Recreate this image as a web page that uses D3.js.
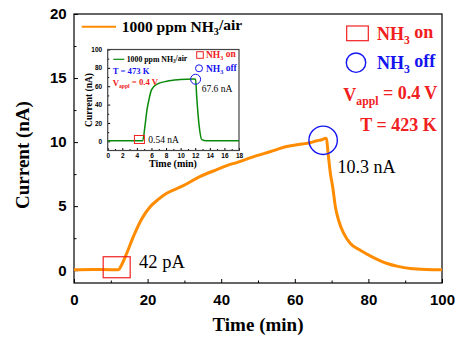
<!DOCTYPE html>
<html>
<head>
<meta charset="utf-8">
<script src="https://cdn.jsdelivr.net/npm/d3@7"></script>
<style>
  body { margin: 0; background: #fff; }
  svg { display: block; font-family: "Liberation Serif", "Times New Roman", serif; }
</style>
</head>
<body>
<div class="chart"></div>
<script>
// main curve, 423 K
const mainTime = [0, 5, 10, 12, 13, 14.3, 16.1, 18.4, 20.7, 23, 25.2, 29.7, 34.2, 38.8, 41.9, 44.2, 48.7, 53.3, 57.8, 62, 64.1, 66, 67.5, 68.3, 68.6, 69.1, 69.7, 70.3, 71, 71.9, 73.3, 75.1, 77.8, 81, 85.1, 88, 91.4, 95.8, 100];
const mainCurrent = [0.03, 0.05, 0.04, 0.04, 0.45, 1.3, 2.6, 4.0, 4.95, 5.55, 6.0, 6.6, 7.3, 7.85, 8.2, 8.4, 8.85, 9.25, 9.65, 9.85, 9.95, 10.1, 10.2, 10.3, 10.25, 9.0, 7.5, 6.5, 5.0, 3.9, 2.87, 2.08, 1.56, 1.04, 0.52, 0.3, 0.13, 0.05, 0.03];

// inset curve, 473 K
const insetTime = [0, 2, 4, 4.8, 5.1, 5.4, 5.7, 6.0, 6.7, 8.1, 9.9, 11.8, 12.05, 12.2, 12.55, 12.9, 13.5, 16, 18];
const insetCurrent = [0.6, 0.55, 0.54, 0.7, 16, 35, 47, 56, 62, 65.5, 67.2, 67.8, 67.6, 49, 16, 1.8, 0.6, 0.55, 0.6];

const xTicks = [0, 20, 40, 60, 80, 100];
const yTicks = [0, 5, 10, 15, 20];
const insetXTicks = [0, 2, 4, 6, 8, 10, 12, 14, 16, 18];
const insetYTicks = [0, 20, 40, 60, 80, 100];

// marker positions (time, current)
const mainOn = [11.6, 0.23];
const mainOff = [67.7, 10.14];
const insetOn = [4.35, 2];
const insetOff = [12.05, 67.6];

const W = 460, H = 342;
const ORANGE = '#ff8c00', RED = '#f02020', BLUE = '#1414f0', GREEN = '#0a8a0a';

const svg = d3.select('.chart').append('svg').attr('width', W).attr('height', H);

const x = d3.scaleLinear().domain([0, 100]).range([74, 442]);
const y = d3.scaleLinear().domain([-1, 20]).range([283, 14]);

// ---- main axes
let xAxisg = svg.append('g')
  .attr('transform', 'translate(0,283)')
  .call(d3.axisBottom(x).tickValues(xTicks).tickSize(-4).tickPadding(11.4));
xAxisg.selectAll('text').style('font-size', '15px').style('font-weight', 'bold').attr('fill', '#000');
xAxisg.select('.domain').remove();
svg.append('g')
  .attr('transform', 'translate(0,283)')
  .call(d3.axisBottom(x).tickValues([10, 30, 50, 70, 90]).tickSize(-2.5).tickFormat(''))
  .select('.domain').remove();

let yAxisg = svg.append('g')
  .attr('transform', 'translate(74,0)')
  .call(d3.axisLeft(y).tickValues(yTicks).tickSize(-4).tickPadding(7.3));
yAxisg.selectAll('text').style('font-size', '15px').style('font-weight', 'bold').attr('fill', '#000');
yAxisg.select('.domain').remove();
svg.append('g')
  .attr('transform', 'translate(74,0)')
  .call(d3.axisLeft(y).tickValues([2.5, 7.5, 12.5, 17.5]).tickSize(-2.5).tickFormat(''))
  .select('.domain').remove();

svg.append('rect')
  .attr('x', 74).attr('y', 14).attr('width', 368).attr('height', 269)
  .attr('fill', 'none').attr('stroke', '#000').attr('stroke-width', 1.2);

svg.append('text').attr('x', 258).attr('y', 331)
  .attr('text-anchor', 'middle').style('font-size', '19px').style('font-weight', 'bold')
  .text('Time (min)');
svg.append('text').attr('transform', 'translate(29,155) rotate(-90)')
  .attr('text-anchor', 'middle').style('font-size', '19px').style('font-weight', 'bold')
  .text('Current (nA)');

// ---- main line
let lineFunction = d3.line().x(d => x(d[0])).y(d => y(d[1])).curve(d3.curveMonotoneX);
svg.append('path')
  .attr('d', lineFunction(d3.zip(mainTime, mainCurrent)))
  .attr('fill', 'none').attr('stroke', ORANGE).attr('stroke-width', 3).attr('stroke-linejoin', 'round');

// markers
svg.append('rect')
  .attr('x', x(mainOn[0]) - 13.5).attr('y', y(mainOn[1]) - 10.5).attr('width', 27).attr('height', 21)
  .attr('fill', 'none').attr('stroke', RED).attr('stroke-width', 1.2);
svg.append('circle')
  .attr('cx', x(mainOff[0])).attr('cy', y(mainOff[1])).attr('r', 14.2)
  .attr('fill', 'none').attr('stroke', BLUE).attr('stroke-width', 1.4);

svg.append('text').attr('x', 139).attr('y', 268).style('font-size', '18.5px').text('42 pA');
svg.append('text').attr('x', 337.5).attr('y', 173).style('font-size', '18px').text('10.3 nA');

// helper for NH3 style subscripts
function chem(sel, before, sub, after) {
  sel.append('tspan').text(before);
  sel.append('tspan').attr('dy', '0.3em').style('font-size', '0.65em').text(sub);
  sel.append('tspan').attr('dy', '-0.3em').text(after);
  return sel;
}

// legend top-left
svg.append('line').attr('x1', 81.7).attr('x2', 116).attr('y1', 26.7).attr('y2', 26.7)
  .attr('stroke', ORANGE).attr('stroke-width', 2);
chem(svg.append('text').attr('x', 121.7).attr('y', 31.7)
  .style('font-size', '15.5px').style('font-weight', 'bold'), '1000 ppm NH', '3', '/air');

// right legend
svg.append('rect').attr('x', 346.7).attr('y', 26).attr('width', 21.6).attr('height', 14.7)
  .attr('fill', 'none').attr('stroke', RED).attr('stroke-width', 1.2);
chem(svg.append('text').attr('x', 377).attr('y', 40).attr('fill', RED)
  .style('font-size', '18px').style('font-weight', 'bold'), 'NH', '3', ' on');
svg.append('circle').attr('cx', 356).attr('cy', 62.7).attr('r', 9.7)
  .attr('fill', 'none').attr('stroke', BLUE).attr('stroke-width', 1.4);
chem(svg.append('text').attr('x', 377).attr('y', 69).attr('fill', BLUE)
  .style('font-size', '18px').style('font-weight', 'bold'), 'NH', '3', ' off');
chem(svg.append('text').attr('x', 343.3).attr('y', 101).attr('fill', RED)
  .style('font-size', '18px').style('font-weight', 'bold'), 'V', 'appl', ' = 0.4 V');
svg.append('text').attr('x', 436.7).attr('y', 130.7).attr('fill', RED).attr('text-anchor', 'end')
  .style('font-size', '18px').style('font-weight', 'bold').text('T = 423 K');

// ---- inset
const ix = d3.scaleLinear().domain([0, 18]).range([107.7, 239]);
const iy = d3.scaleLinear().domain([-10, 100]).range([150.5, 49.5]);
let inset = svg.append('g');
inset.append('rect').attr('x', 107.7).attr('y', 49.5).attr('width', 131.3).attr('height', 101)
  .attr('fill', '#fff');

let ixAxisg = inset.append('g').attr('transform', 'translate(0,150.5)')
  .call(d3.axisBottom(ix).tickValues(insetXTicks).tickSize(-2.5).tickPadding(3.2));
ixAxisg.selectAll('text').style('font-size', '6.5px').style('font-weight', 'bold').attr('fill', '#000');
ixAxisg.select('.domain').remove();
inset.append('g').attr('transform', 'translate(0,150.5)')
  .call(d3.axisBottom(ix).tickValues(d3.range(1, 18, 2)).tickSize(-1.5).tickFormat(''))
  .select('.domain').remove();
let iyAxisg = inset.append('g').attr('transform', 'translate(107.7,0)')
  .call(d3.axisLeft(iy).tickValues(insetYTicks).tickSize(-2.5).tickPadding(5.5));
iyAxisg.selectAll('text').style('font-size', '6.5px').style('font-weight', 'bold').attr('fill', '#000');
iyAxisg.select('.domain').remove();
inset.append('g').attr('transform', 'translate(107.7,0)')
  .call(d3.axisLeft(iy).tickValues([10, 30, 50, 70, 90]).tickSize(-1.5).tickFormat(''))
  .select('.domain').remove();

inset.append('rect').attr('x', 107.7).attr('y', 49.5).attr('width', 131.3).attr('height', 101)
  .attr('fill', 'none').attr('stroke', '#444').attr('stroke-width', 1.2);

inset.append('text').attr('x', 173).attr('y', 167).attr('text-anchor', 'middle')
  .style('font-size', '10px').style('font-weight', 'bold').text('Time (min)');
inset.append('text').attr('transform', 'translate(92,100) rotate(-90)').attr('text-anchor', 'middle')
  .style('font-size', '9.5px').style('font-weight', 'bold').text('Current (nA)');

let insetLine = d3.line().x(d => ix(d[0])).y(d => iy(d[1])).curve(d3.curveMonotoneX);
inset.append('path')
  .attr('d', insetLine(d3.zip(insetTime, insetCurrent)))
  .attr('fill', 'none').attr('stroke', GREEN).attr('stroke-width', 1.5);

inset.append('rect').attr('x', ix(insetOn[0]) - 5).attr('y', iy(insetOn[1]) - 4).attr('width', 10).attr('height', 8)
  .attr('fill', 'none').attr('stroke', RED).attr('stroke-width', 1);
inset.append('circle').attr('cx', ix(insetOff[0])).attr('cy', iy(insetOff[1])).attr('r', 5)
  .attr('fill', 'none').attr('stroke', BLUE).attr('stroke-width', 1);
inset.append('text').attr('x', 148.3).attr('y', 143.3).style('font-size', '9.5px').text('0.54 nA');
inset.append('text').attr('x', 201.7).attr('y', 91.7).style('font-size', '9.5px').text('67.6 nA');

// inset legend
inset.append('line').attr('x1', 113.3).attr('x2', 124.3).attr('y1', 59.3).attr('y2', 59.3)
  .attr('stroke', GREEN).attr('stroke-width', 1.2);
chem(inset.append('text').attr('x', 126.7).attr('y', 61.5)
  .style('font-size', '7.8px').style('font-weight', 'bold'), '1000 ppm NH', '3', '/air');
chem(inset.append('text').attr('x', 112.7).attr('y', 74.3).attr('fill', BLUE)
  .style('font-size', '8.7px').style('font-weight', 'bold'), 'T = 473 K', '', '');
chem(inset.append('text').attr('x', 112.7).attr('y', 86).attr('fill', RED)
  .style('font-size', '8.7px').style('font-weight', 'bold'), 'V', 'appl', ' = 0.4 V');
inset.append('rect').attr('x', 196.7).attr('y', 51.7).attr('width', 6.6).attr('height', 6.6)
  .attr('fill', 'none').attr('stroke', RED).attr('stroke-width', 1);
chem(inset.append('text').attr('x', 206).attr('y', 58.3).attr('fill', RED)
  .style('font-size', '9.5px').style('font-weight', 'bold'), 'NH', '3', ' on');
inset.append('circle').attr('cx', 199).attr('cy', 68.3).attr('r', 3.5)
  .attr('fill', 'none').attr('stroke', BLUE).attr('stroke-width', 1);
chem(inset.append('text').attr('x', 206).attr('y', 71.7).attr('fill', BLUE)
  .style('font-size', '9.5px').style('font-weight', 'bold'), 'NH', '3', ' off');
</script>
</body>
</html>
